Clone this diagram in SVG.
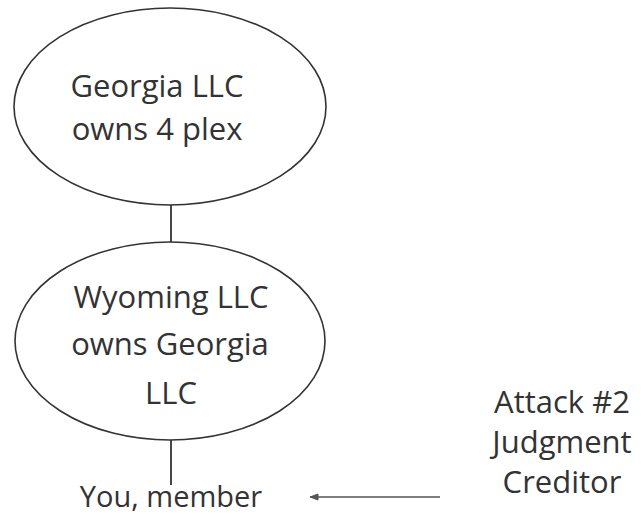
<svg xmlns="http://www.w3.org/2000/svg" width="641" height="514" viewBox="0 0 641 514">
<defs>
<style>
.node{fill:#fff;stroke:#333;stroke-width:1.6}
.t{font-family:"Open Sans","Liberation Sans",sans-serif;font-size:31px;fill:#333;text-anchor:middle}
.c{stroke:#333;stroke-width:1.8;fill:none}
.a{stroke:#555;stroke-width:1.4;fill:none}
</style>
<marker id="ah" markerWidth="10" markerHeight="8" refX="9" refY="4" orient="auto" markerUnits="userSpaceOnUse">
<path d="M1,1 L9,4 L1,7 Z" fill="#555" stroke="#555" stroke-width="1"/>
</marker>
</defs>
<rect width="641" height="514" fill="#fff"/>
<g id="connectors">
<line class="c" x1="171" y1="205" x2="171" y2="243"/>
<line class="c" x1="171" y1="440" x2="171" y2="485"/>
<line class="a" x1="440" y1="497" x2="310" y2="497" marker-end="url(#ah)"/>
</g>
<g id="georgia">
<ellipse class="node" cx="170" cy="106.5" rx="156" ry="98.5"/>
<text class="t" x="157" y="97">Georgia LLC</text>
<text class="t" x="157" y="140">owns 4 plex</text>
</g>
<g id="wyoming">
<ellipse class="node" cx="170" cy="341" rx="155" ry="99"/>
<text class="t" x="171" y="308">Wyoming LLC</text>
<text class="t" x="170" y="355">owns Georgia</text>
<text class="t" x="171" y="404">LLC</text>
</g>
<g id="member">
<text class="t" x="171" y="507" style="font-size:29px">You, member</text>
</g>
<g id="attack">
<text class="t" x="562" y="413">Attack #2</text>
<text class="t" x="562" y="453">Judgment</text>
<text class="t" x="562" y="493">Creditor</text>
</g>
</svg>
